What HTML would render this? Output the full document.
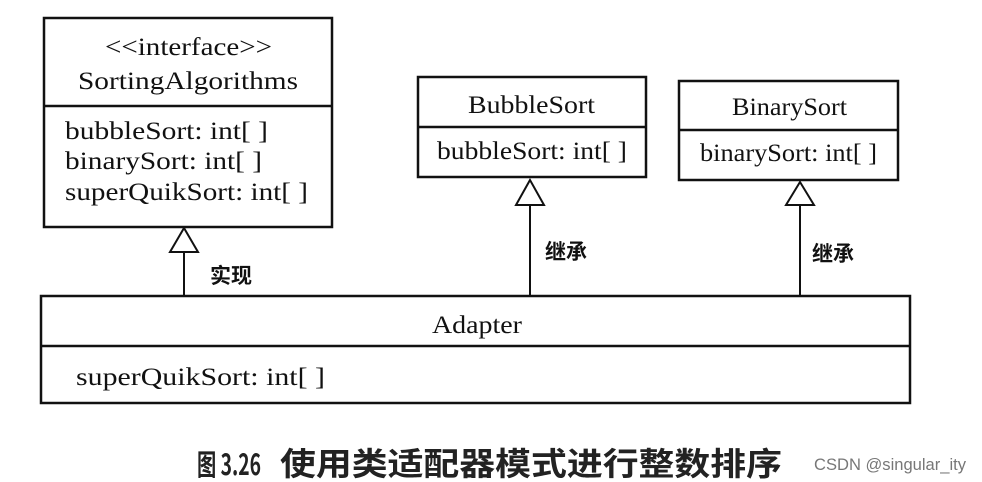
<!DOCTYPE html>
<html><head><meta charset="utf-8"><style>
html,body{margin:0;padding:0;background:#fff;}
svg{display:block;}
.t{font-family:"Liberation Serif","Noto Serif CJK SC",serif;font-size:25px;fill:#111;}
.c{font-family:"Liberation Sans","Noto Sans CJK SC",sans-serif;font-weight:bold;font-size:21px;fill:#111;}
</style></head><body>
<svg width="982" height="482" viewBox="0 0 982 482" xmlns="http://www.w3.org/2000/svg">
<g fill="none" stroke="#111" stroke-width="2.5">
<rect x="44" y="18" width="288" height="209"/>
<line x1="44" y1="106" x2="332" y2="106"/>
<rect x="418" y="77" width="228" height="100"/>
<line x1="418" y1="127" x2="646" y2="127"/>
<rect x="679" y="81" width="219" height="99"/>
<line x1="679" y1="130" x2="898" y2="130"/>
<rect x="41" y="296" width="869" height="107"/>
<line x1="41" y1="346" x2="910" y2="346"/>
<line x1="184" y1="252" x2="184" y2="296" stroke-width="2"/>
<line x1="530" y1="205" x2="530" y2="296" stroke-width="2"/>
<line x1="800" y1="205" x2="800" y2="296" stroke-width="2"/>
<polygon points="184,228 170,252 198,252" fill="#fff" stroke-width="2"/>
<polygon points="530,180 516,205 544,205" fill="#fff" stroke-width="2"/>
<polygon points="800,182 786,205 814,205" fill="#fff" stroke-width="2"/>
</g>
<text class="t" x="105" y="55" textLength="167" lengthAdjust="spacingAndGlyphs">&lt;&lt;interface&gt;&gt;</text>
<text class="t" x="78" y="89" textLength="220" lengthAdjust="spacingAndGlyphs">SortingAlgorithms</text>
<text class="t" x="65" y="139" textLength="203" lengthAdjust="spacingAndGlyphs">bubbleSort: int[ ]</text>
<text class="t" x="65" y="169" textLength="197" lengthAdjust="spacingAndGlyphs">binarySort: int[ ]</text>
<text class="t" x="65" y="200" textLength="243" lengthAdjust="spacingAndGlyphs">superQuikSort: int[ ]</text>
<text class="t" x="468" y="113" textLength="127" lengthAdjust="spacingAndGlyphs">BubbleSort</text>
<text class="t" x="437" y="159" textLength="190" lengthAdjust="spacingAndGlyphs">bubbleSort: int[ ]</text>
<text class="t" x="732" y="115" textLength="115" lengthAdjust="spacingAndGlyphs">BinarySort</text>
<text class="t" x="700" y="161" textLength="177" lengthAdjust="spacingAndGlyphs">binarySort: int[ ]</text>
<text class="t" x="432" y="333" textLength="90" lengthAdjust="spacingAndGlyphs">Adapter</text>
<text class="t" x="76" y="385" textLength="249" lengthAdjust="spacingAndGlyphs">superQuikSort: int[ ]</text>
<text class="c" x="210" y="283">实现</text>
<text class="c" x="545" y="259">继承</text>
<text class="c" x="812" y="261">继承</text>
<text x="197" y="475" textLength="64" lengthAdjust="spacingAndGlyphs" style="font-family:'Noto Sans CJK SC',sans-serif;font-size:29px;font-weight:bold;fill:#222">图 3.26</text>
<text x="280" y="475" textLength="502" lengthAdjust="spacingAndGlyphs" style="font-family:'Noto Sans CJK SC',sans-serif;font-size:32px;font-weight:bold;fill:#222">使用类适配器模式进行整数排序</text>
<text x="814" y="470" textLength="152" lengthAdjust="spacingAndGlyphs" style="font-family:'Liberation Sans',sans-serif;font-size:17px;fill:#777">CSDN @singular_ity</text>
</svg>
</body></html>
